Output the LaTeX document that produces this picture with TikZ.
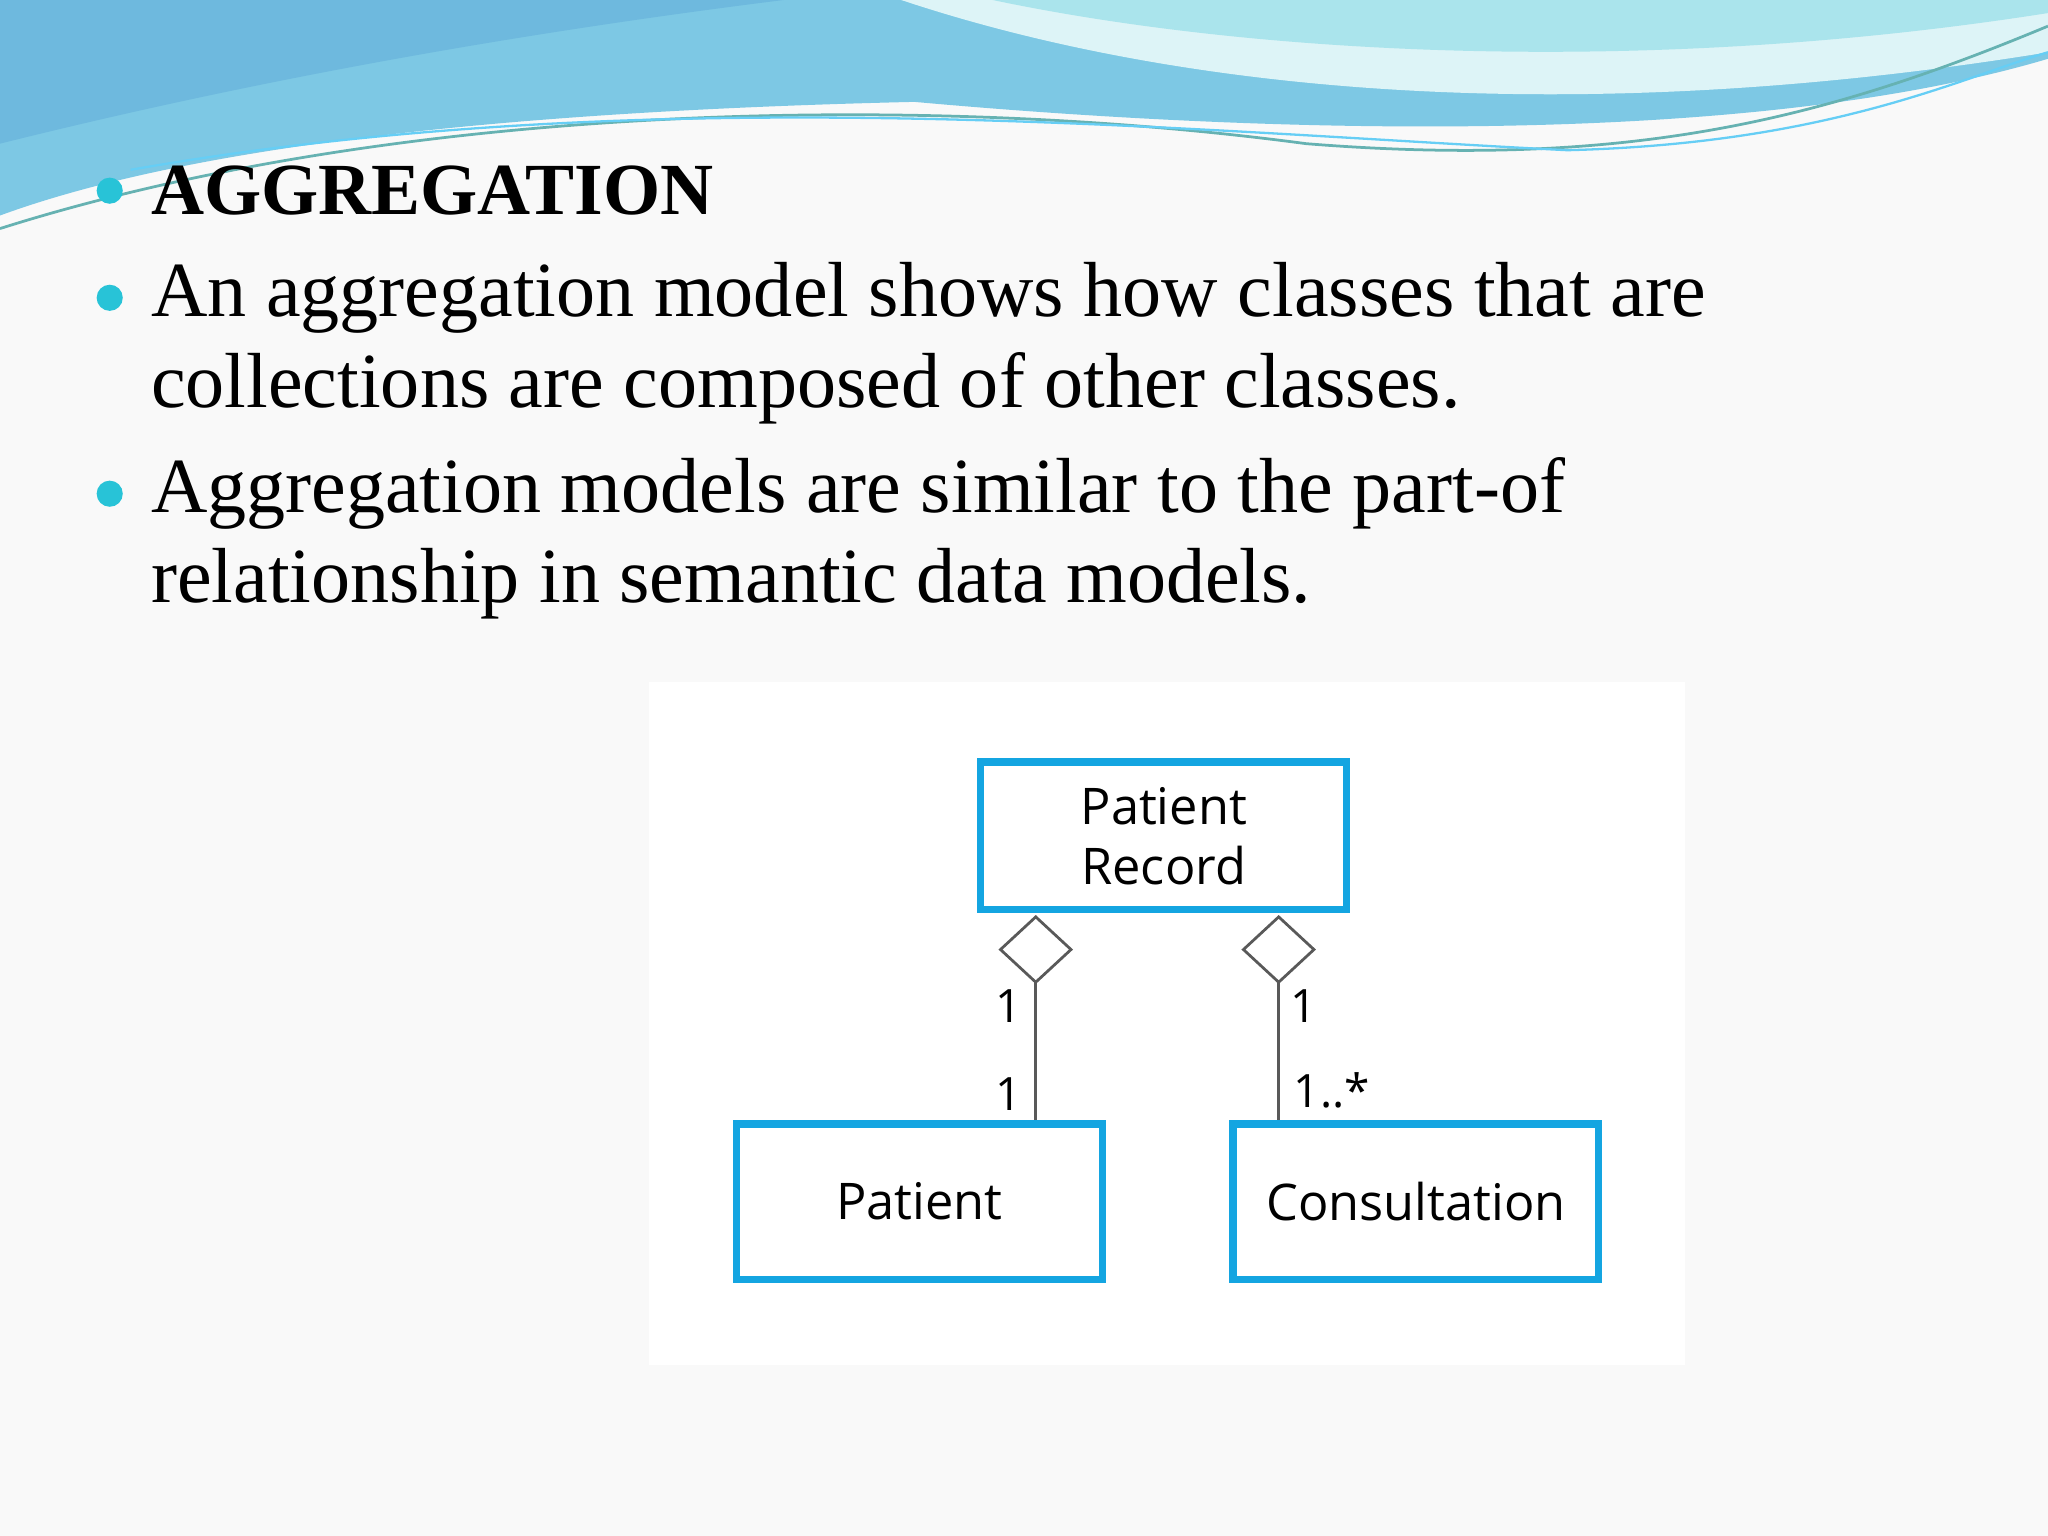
\documentclass[tikz,border=0pt]{standalone}
\usepackage{fontspec}
\setmainfont{Liberation Serif}
\newfontfamily\diag{Open Sans}
\definecolor{boxc}{RGB}{20,165,225}
\definecolor{bulc}{RGB}{40,195,215}
\definecolor{wave1}{RGB}{125,200,228}
\definecolor{wave2}{RGB}{170,228,236}
\definecolor{wave3}{RGB}{110,185,222}
\begin{document}
\begin{tikzpicture}[x=0.01cm,y=-0.01cm,
  cls/.style={draw=boxc, line width=1.6pt, fill=white, inner sep=0pt, align=center, font=\diag\fontsize{11}{13}\selectfont},
  bul/.style={fill=bulc, draw=none, circle, minimum size=0.2cm, inner sep=0pt},
  txt/.style={anchor=west, font=\fontsize{17}{20}\selectfont, inner sep=0pt},
  agg/.style={draw=gray!70!black, line width=0.6pt},
  lab/.style={font=\diag\fontsize{10}{12}\selectfont, inner sep=0pt}]
\useasboundingbox (0,0) rectangle (1568,1176);
\fill[gray!5] (0,0) rectangle (1568,1176);
% wave header
\fill[wave1] (0,0) -- (1568,0) -- (1568,45) .. controls (1350,110) and (1000,105) .. (700,78) .. controls (400,85) and (150,110) .. (0,165) -- cycle;
\fill[white!60!wave2] (690,0) .. controls (900,70) and (1200,100) .. (1568,40) -- (1568,0) -- cycle;
\fill[wave2] (760,0) .. controls (950,40) and (1250,60) .. (1568,10) -- (1568,0) -- cycle;
\fill[wave3] (0,0) -- (600,0) .. controls (400,25) and (200,60) .. (0,110) -- cycle;
\draw[teal!60, line width=0.6pt] (0,175) .. controls (300,80) and (700,70) .. (1000,110) .. controls (1250,130) and (1400,90) .. (1568,20);
\draw[cyan!60, line width=0.5pt] (100,130) .. controls (500,60) and (900,100) .. (1200,115) .. controls (1400,110) and (1500,60) .. (1568,40);
% text
\node[bul] (b1) at (84,146) {};
\node[txt, font=\fontsize{16}{20}\selectfont] (t1) at (115,146) {\textbf{AGGREGATION}};
\node[bul] (b2) at (84,228) {};
\node[txt] (t2) at (115,228) {An aggregation model shows how classes that are};
\node[txt] (t2b) at (115,297) {collections are composed of other classes.};
\node[bul] (b3) at (84,378) {};
\node[txt] (t3) at (115,378) {Aggregation models are similar to the part-of};
\node[txt] (t3b) at (115,447) {relationship in semantic data models.};
% diagram
\fill[white] (497,522) rectangle (1290,1045);
\node[cls, minimum width=2.8cm, minimum height=1.13cm] (pr) at (891,640) {Patient\\Record};
\node[cls, minimum width=2.8cm, minimum height=1.19cm] (pa) at (704,920) {Patient};
\node[cls, minimum width=2.8cm, minimum height=1.19cm] (co) at (1084,920) {Consultation};
\coordinate (d1) at (793,752);
\coordinate (d2) at (979,752);
\draw[agg, fill=white] (793,702) -- (820,727) -- (793,752) -- (766,727) -- cycle;
\draw[agg, fill=white] (979,702) -- (1006,727) -- (979,752) -- (952,727) -- cycle;
\draw[agg] (d1) -- (d1 |- pa.north);
\draw[agg] (d2) -- (d2 |- co.north);
\node[lab] (l1) at (772,770) {1};
\node[lab] (l2) at (772,838) {1};
\node[lab] (l3) at (998,770) {1};
\node[lab, anchor=west] (l4) at (990,835) {1..*};
\end{tikzpicture}
\end{document}
